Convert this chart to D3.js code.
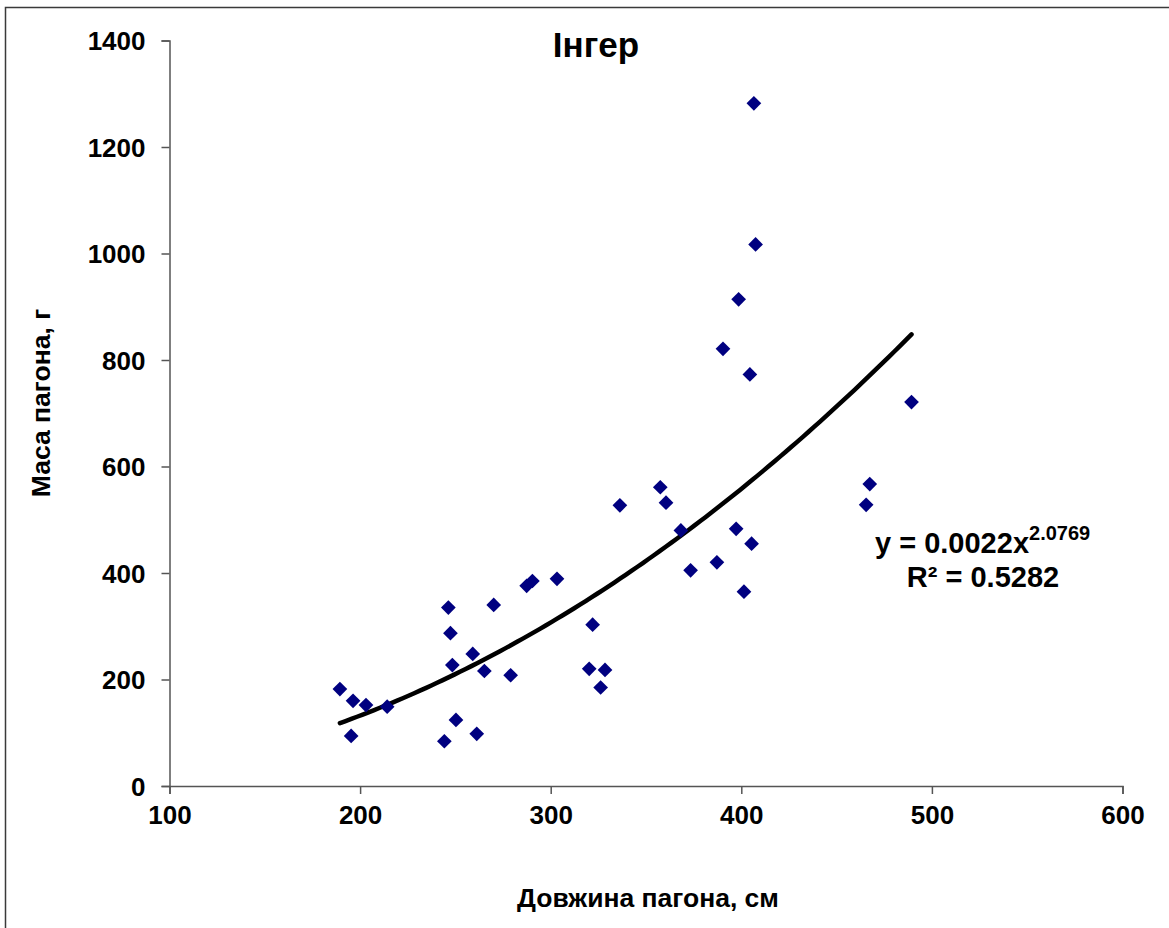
<!DOCTYPE html>
<html>
<head>
<meta charset="utf-8">
<script src="https://cdn.jsdelivr.net/npm/d3@7"></script>
<style>
  html, body { margin: 0; padding: 0; background: #fff; }
  svg { display: block; font-family: "Liberation Sans", Arial, sans-serif; font-weight: bold; }
</style>
</head>
<body>
<svg id="chart" width="1169" height="928"></svg>
<script>
// ---- data ----
const shootLength = [189.4, 196.3, 195.3, 203.1, 214.2, 244.2, 246.3, 247.4, 248.4, 250.3,
                     259.1, 261.2, 265.2, 270.1, 279.0, 287.4, 290.4, 303.3, 320.2, 322.0,
                     326.2, 328.5, 336.3, 357.5, 360.5, 368.3, 373.4, 387.2, 390.4, 397.3,
                     398.6, 401.4, 404.5, 405.4, 406.6, 407.5, 465.5, 467.4, 489.3];
const shootMass   = [182, 160, 94, 152, 149, 84, 335, 287, 227, 124,
                     248, 98, 216, 340, 208, 376, 385, 389, 220, 303,
                     185, 218, 527, 561, 532, 480, 405, 420, 821, 483,
                     914, 365, 773, 455, 1282, 1017, 528, 567, 721];
const xTicks = [100, 200, 300, 400, 500, 600];
const yTicks = [0, 200, 400, 600, 800, 1000, 1200, 1400];
const fitCoef = 0.0022, fitExp = 2.0769;
const titleText = "Інгер";
const xTitle = "Довжина пагона, см";
const yTitle = "Маса пагона, г";
const eqText = "y = 0.0022x", eqSup = "2.0769", r2Text = "R² = 0.5282";

const svg = d3.select("#chart");

// outer chart-area border (extends past right/bottom edges like the reference)
svg.append("rect").attr("x", 5.5).attr("y", 7.5).attr("width", 1200).attr("height", 960)
  .attr("fill", "none").attr("stroke", "#3a3a3a").attr("stroke-width", 1.5);

const x = d3.scaleLinear().domain([100, 600]).range([169.5, 1122.5]);
const y = d3.scaleLinear().domain([0, 1400]).range([786, 40.5]);

// axes
const xAxis = svg.append("g").attr("transform", `translate(0,${y(0)})`)
  .call(d3.axisBottom(x).tickValues(xTicks).tickSize(8).tickPadding(12).tickFormat(d3.format("d")));
const yAxis = svg.append("g").attr("transform", `translate(${x(100)},0)`)
  .call(d3.axisLeft(y).tickValues(yTicks).tickSize(8).tickPadding(16).tickFormat(d3.format("d")));
[xAxis, yAxis].forEach(g => {
  g.select(".domain").attr("stroke", "#555").attr("stroke-width", 1.5);
  g.selectAll(".tick line").attr("stroke", "#555").attr("stroke-width", 1.5);
  g.selectAll(".tick text").attr("fill", "#000").style("font-size", "26px")
    .style("font-weight", "bold").style("font-family", "'Liberation Sans', Arial, sans-serif");
});
yAxis.selectAll(".tick text").attr("dy", "0.36em");

// trend line from the displayed power-fit equation, over the data x-range
const xExt = d3.extent(shootLength);
const trendPts = d3.range(0, 101).map(i => {
  const xv = xExt[0] + (xExt[1] - xExt[0]) * i / 100;
  return [xv, fitCoef * Math.pow(xv, fitExp)];
});
svg.append("path").datum(trendPts)
  .attr("d", d3.line().x(d => x(d[0])).y(d => y(d[1])).curve(d3.curveMonotoneX))
  .attr("fill", "none").attr("stroke", "#000").attr("stroke-width", 4.5)
  .attr("stroke-linecap", "round");

// diamond markers
const diamond = d3.symbol().type(d3.symbolSquare).size(108);
svg.append("g").selectAll("path").data(shootLength.map((v, i) => [v, shootMass[i]]))
  .join("path")
  .attr("d", diamond)
  .attr("transform", d => `translate(${x(d[0])},${y(d[1])}) rotate(45)`)
  .attr("fill", "#000080");

// title
svg.append("text").attr("x", 596).attr("y", 57).attr("text-anchor", "middle")
  .style("font-size", "35px").text(titleText);

// axis titles
svg.append("text").attr("x", 648).attr("y", 907).attr("text-anchor", "middle")
  .style("font-size", "26.5px").text(xTitle);
svg.append("text").attr("transform", "translate(50,403) rotate(-90)").attr("text-anchor", "middle")
  .style("font-size", "26.5px").text(yTitle);

// equation labels
const eq = svg.append("text").attr("x", 875).attr("y", 553).style("font-size", "29px");
eq.append("tspan").text(eqText);
eq.append("tspan").attr("dy", -13).style("font-size", "20px").text(eqSup);
svg.append("text").attr("x", 983).attr("y", 587).attr("text-anchor", "middle")
  .style("font-size", "29px").text(r2Text);
</script>
</body>
</html>
